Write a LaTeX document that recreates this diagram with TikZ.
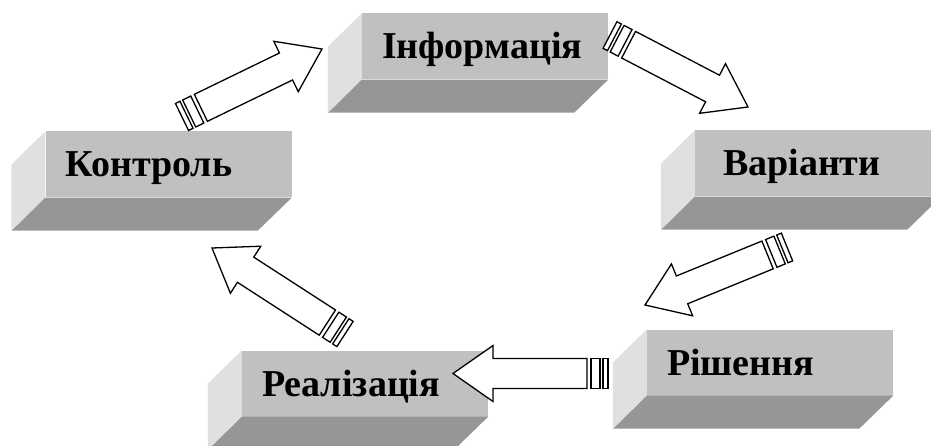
\documentclass[tikz,border=0pt]{standalone}
\usepackage{fontspec}
\setmainfont{Liberation Serif}
\usetikzlibrary{calc}

\definecolor{facegray}{RGB}{192,192,192}
\definecolor{sidegray}{RGB}{224,224,224}
\definecolor{basegray}{RGB}{150,150,150}

\tikzset{
  block/.style={fill=facegray, minimum width=246pt, minimum height=66pt,
    text width=206pt, inner xsep=20pt, align=left,
    text height=25pt, text depth=0pt, font=\fontsize{38}{40}\selectfont\bfseries},
  arrowline/.style={draw=black, fill=white, line width=1.3pt},
  pics/stripearrow/.style={code={
    \draw[arrowline] (0,-15) rectangle (5,15) (8,-15) rectangle (17,15);
    \draw[arrowline] (21,-15) -- (#1-40,-15) -- (#1-40,-28) -- (#1,0)
      -- (#1-40,28) -- (#1-40,15) -- (21,15) -- cycle;
  }}
}

% side and bottom faces of a block
\newcommand\bevelsides[1]{%
  \fill[sidegray] (#1.north west) -- (#1.south west) -- ++(-34,-33) -- ++(0,66) -- cycle;
  \fill[basegray] (#1.south west) -- (#1.south east) -- ++(-34,-33) -- ++(-246,0) -- cycle;}

% striped arrow from tail to tip
\newcommand\flowarrow[2]{%
  \path let \p1=(#1), \p2=(#2) in
    \pgfextra{\pgfmathsetmacro\arrang{atan2(\y2-\y1,\x2-\x1)}%
      \pgfmathsetmacro\arrlen{veclen(\x2-\x1,\y2-\y1)}%
      \global\let\arrang\arrang\global\let\arrlen\arrlen};
  \pic[rotate=\arrang] at (#1) {stripearrow=\arrlen};}

\begin{document}
\begin{tikzpicture}[x=1pt,y=1pt]
  \useasboundingbox (0,0) rectangle (931,445);
  \clip (0,0) rectangle (931,445);

  \node[block] (info) at (485,398.5) {Інформація};
  \node[block, text width=190pt, inner xsep=28pt] (variants) at (818,281.5) {Варіанти};
  \node[block] (decision) at (770,82.5) {Рішення};
  \node[block] (realize) at (365,61.5) {Реалізація};
  \node[block] (control) at (168.5,280.5) {Контроль};
  \foreach \b in {info,variants,decision,realize,control} {\bevelsides{\b}}

  \coordinate (tailA) at (182,328);  \coordinate (tipA) at (322,396);
  \coordinate (tailB) at (610,410);  \coordinate (tipB) at (748,338);
  \coordinate (tailC) at (787,198);  \coordinate (tipC) at (645,140);
  \coordinate (tailD) at (608,71.5); \coordinate (tipD) at (453,71.5);
  \coordinate (tailE) at (345,111);  \coordinate (tipE) at (212,197);

  \flowarrow{tailA}{tipA}
  \flowarrow{tailB}{tipB}
  \flowarrow{tailC}{tipC}
  \flowarrow{tailD}{tipD}
  \flowarrow{tailE}{tipE}
\end{tikzpicture}
\end{document}
